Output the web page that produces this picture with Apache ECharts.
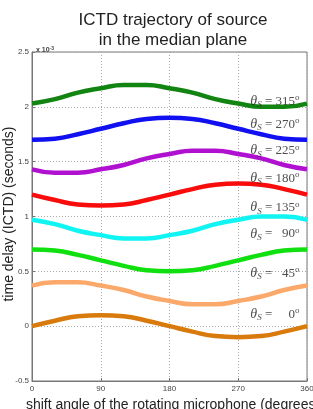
<!DOCTYPE html>
<html>
<head>
<meta charset="utf-8">
<script src="https://cdn.jsdelivr.net/npm/echarts@6/dist/echarts.min.js"></script>
<style>
  html, body { margin: 0; padding: 0; background: #fff; }
  #chart { width: 313px; height: 409px; }
</style>
</head>
<body>
<div id="chart"></div>
<script>
// shift angle of the rotating microphone (degrees)
const angles = [0, 30, 60, 90, 120, 150, 180, 210, 240, 270, 300, 330, 360]

// ICTD per source elevation, in units of 1e-3 s
const ictd0   = [0.00, 0.05, 0.09, 0.10, 0.09, 0.05, 0.00, -0.05, -0.09, -0.10, -0.09, -0.05, 0.00]
const ictd45  = [0.37, 0.40, 0.40, 0.37, 0.33, 0.27, 0.23, 0.20, 0.20, 0.23, 0.27, 0.33, 0.37]
const ictd90  = [0.70, 0.69, 0.65, 0.60, 0.55, 0.51, 0.50, 0.51, 0.55, 0.60, 0.65, 0.69, 0.70]
const ictd135 = [0.97, 0.93, 0.87, 0.83, 0.80, 0.80, 0.83, 0.87, 0.93, 0.97, 1.00, 1.00, 0.97]
const ictd180 = [1.20, 1.15, 1.11, 1.10, 1.11, 1.15, 1.20, 1.25, 1.29, 1.30, 1.29, 1.25, 1.20]
const ictd225 = [1.43, 1.40, 1.40, 1.43, 1.47, 1.53, 1.57, 1.60, 1.60, 1.57, 1.53, 1.47, 1.43]
const ictd270 = [1.70, 1.71, 1.75, 1.80, 1.85, 1.89, 1.90, 1.89, 1.85, 1.80, 1.75, 1.71, 1.70]
const ictd315 = [2.03, 2.07, 2.13, 2.17, 2.20, 2.20, 2.17, 2.13, 2.07, 2.03, 2.00, 2.00, 2.03]

const sourceAngles = ['0', '45', '90', '135', '180', '225', '270', '315']
const curves = [ictd0, ictd45, ictd90, ictd135, ictd180, ictd225, ictd270, ictd315]
const colors = ['#d87a0c', '#fba96a', '#10e010', '#10f4f4', '#f80c0c', '#b010d0', '#1010f0', '#128412']

// where each θs label sits (angle, value)
const labelX = 318
const labelY = [0.11, 0.48, 0.84, 1.08, 1.35, 1.60, 1.84, 2.05]

const yTicks = [-0.5, 0, 0.5, 1, 1.5, 2, 2.5]

const serif = '"Liberation Serif", "DejaVu Serif", serif'
const sans = '"Liberation Sans", Arial, sans-serif'

const chart = echarts.init(document.getElementById('chart'))

function labelText(deg) {
  const pad = deg.length === 3 ? ' ' : (deg.length === 2 ? '   ' : '     ')
  return `{t|θ}{s|S}{e| =${pad}${deg}}{o|o}`
}

chart.setOption({
  animation: false,
  backgroundColor: '#fff',
  title: [
    {
      text: 'ICTD trajectory of source\nin the median plane',
      left: 168,
      top: 5,
      textAlign: 'center',
      textStyle: { fontFamily: sans, fontSize: 17, fontWeight: 'normal', color: '#222', lineHeight: 20 },
    },
    {
      text: '{a|x 10}{b|-3}',
      left: 31,
      top: 41,
      textStyle: {
        rich: {
          a: { fontFamily: sans, fontSize: 7, color: '#444' },
          b: { fontFamily: sans, fontSize: 5, color: '#444', verticalAlign: 'top', padding: [0, 0, 4, 0] },
        },
      },
    },
  ],
  // y axis title placed by hand (v6 pushes axis names away from the tick labels)
  graphic: [
    {
      type: 'text',
      x: 9,
      y: 214,
      rotation: Math.PI / 2,
      style: {
        text: 'time delay (ICTD) (seconds)',
        fontFamily: sans,
        fontSize: 14,
        fill: '#222',
        textAlign: 'center',
        textVerticalAlign: 'middle',
      },
    },
  ],
  grid: {
    left: 32, right: 6, top: 52, bottom: 28,
    outerBoundsMode: 'none',
    show: true, borderColor: '#777', borderWidth: 1,
  },
  xAxis: {
    type: 'value',
    min: 0,
    max: 360,
    interval: 90,
    name: 'shift angle of the rotating microphone (degrees)',
    nameLocation: 'middle',
    nameGap: 17,
    nameTextStyle: { fontFamily: sans, fontSize: 14, color: '#222', padding: [0, 0, 0, 7] },
    axisLine: { onZero: false, lineStyle: { color: '#777' } },
    axisTick: { inside: true, length: 3, lineStyle: { color: '#777' } },
    axisLabel: { fontFamily: sans, fontSize: 8, color: '#444', margin: 4 },
    splitLine: { show: true, lineStyle: { color: '#aaa', type: [1, 2] } },
  },
  yAxis: {
    type: 'value',
    min: -0.5,
    max: 2.5,
    interval: 0.5,
    axisLine: { onZero: false, lineStyle: { color: '#777' } },
    axisTick: { inside: true, length: 3, lineStyle: { color: '#777' } },
    axisLabel: {
      fontFamily: sans, fontSize: 8, color: '#444', margin: 3,
      formatter: (v) => (yTicks.includes(v) ? String(v) : ''),
    },
    splitLine: { show: true, lineStyle: { color: '#aaa', type: [1, 2] } },
  },
  series: [
    ...curves.map((data, i) => ({
      name: 'θs=' + sourceAngles[i],
      type: 'line',
      smooth: true,
      symbol: 'none',
      data: data.map((v, j) => [angles[j], v]),
      lineStyle: { color: colors[i], width: 4.5 },
      z: 3,
    })),
    {
      type: 'scatter',
      symbolSize: 0,
      silent: true,
      z: 5,
      data: labelY.map((v, i) => [labelX, v, sourceAngles[i]]),
      label: {
        show: true,
        position: 'inside',
        formatter: (p) => labelText(p.value[2]),
        rich: {
          t: { fontFamily: serif, fontStyle: 'italic', fontSize: 14, color: '#222' },
          s: { fontFamily: serif, fontStyle: 'italic', fontSize: 9, color: '#222', verticalAlign: 'bottom', padding: [6, 0, 0, 0] },
          e: { fontFamily: serif, fontSize: 13, color: '#222' },
          o: { fontFamily: serif, fontSize: 9, color: '#222', verticalAlign: 'top', padding: [0, 0, 7, 0] },
        },
      },
    },
  ],
})
</script>
</body>
</html>
